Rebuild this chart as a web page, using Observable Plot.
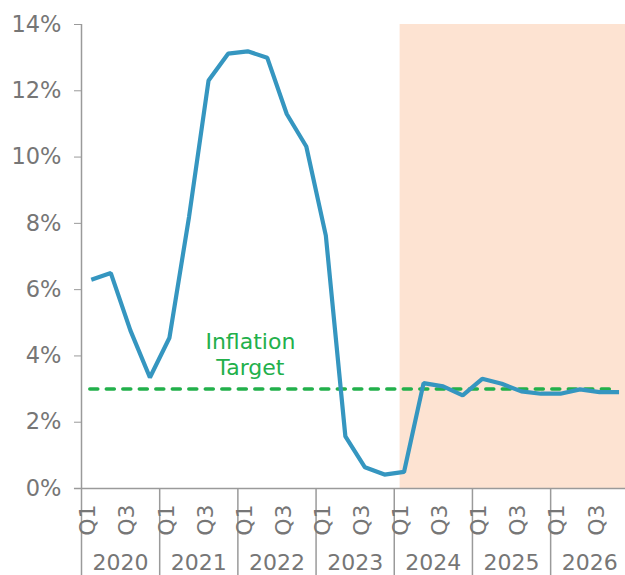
<!DOCTYPE html>
<html>
<head>
<meta charset="utf-8">
<script src="https://cdn.jsdelivr.net/npm/d3@7"></script>
<script src="https://cdn.jsdelivr.net/npm/@observablehq/plot@0.6"></script>
<style>
  html, body { margin: 0; padding: 0; background: #fff; }
  #chart svg { display: block; overflow: visible; }
</style>
</head>
<body>
<div id="chart"></div>
<script>
// Quarterly inflation rate (%), 2020 Q1 – 2026 Q4
const years = [2020, 2021, 2022, 2023, 2024, 2025, 2026];
const quarters = ["Q1", "Q2", "Q3", "Q4"];
const inflation = [
  6.30, 6.50, 4.77, 3.35,
  4.55, 8.19, 12.31, 13.12,
  13.19, 13.00, 11.30, 10.32,
  7.63, 1.57, 0.64, 0.42,
  0.50, 3.18, 3.08, 2.81,
  3.31, 3.16, 2.93, 2.86,
  2.86, 2.99, 2.91, 2.91
];
const yTicks = [0, 2, 4, 6, 8, 10, 12, 14];
const shownQuarters = ["Q1", "Q3"];
const inflationTarget = 3;
const targetLabel = "Inflation\nTarget";
const forecastStart = {year: 2024, quarter: "Q1"};

// One row per quarter; x is the quarter index (centred in its slot)
const rows = [];
years.forEach((yr, yi) => quarters.forEach((q, qi) => {
  const i = yi * 4 + qi;
  rows.push({i, x: i + 0.5, year: yr, quarter: q, value: inflation[i]});
}));

const qIndex = (yr, q) => years.indexOf(yr) * 4 + quarters.indexOf(q);
const xEnd = 27.83;       // right edge of the plotting area (last year runs past it)
const belowAxis = -2.7;   // extent of year separators in the bottom margin
const textGrey = "#767676";
const lineGrey = "#9a9a9a";
const green = "#22b04b";

const chart = Plot.plot({
  width: 625,
  height: 575,
  marginLeft: 81,
  marginRight: 0,
  marginTop: 24,
  marginBottom: 87,
  style: {fontFamily: "DejaVu Sans", fontSize: "22px", background: "#fff", overflow: "visible"},
  x: {type: "linear", domain: [0, xEnd], axis: null},
  y: {domain: [0, 14], axis: null},
  marks: [
    // forecast period shading
    Plot.rect([forecastStart], {
      x1: d => qIndex(d.year, d.quarter) + 0.3,
      x2: xEnd,
      y1: 0,
      y2: 14,
      fill: "#fde3d2"
    }),
    // y axis
    Plot.axisY(yTicks, {
      label: null,
      tickSize: 7,
      tickPadding: 13,
      tickFormat: d => d + "%",
      stroke: lineGrey,
      fill: textGrey,
      fontSize: 22.5
    }),
    // axis lines
    Plot.ruleX([0], {y1: 14, y2: belowAxis, stroke: lineGrey, strokeWidth: 1.5}),
    Plot.ruleY([0], {x1: -0.36, x2: xEnd, stroke: lineGrey, strokeWidth: 1.5}),
    // year separators
    Plot.ruleX(years.slice(1), {x: (d, k) => (k + 1) * 4, y1: 0, y2: belowAxis, stroke: lineGrey, strokeWidth: 1.5}),
    // quarter labels
    Plot.text(rows.filter(d => shownQuarters.includes(d.quarter)), {
      x: "x",
      y: 0,
      text: "quarter",
      rotate: -90,
      textAnchor: "end",
      dy: 16,
      dx: -3,
      fill: textGrey,
      fontSize: 22
    }),
    // year labels
    Plot.text(years, {
      x: (d, k) => k * 4 + 2,
      y: -2.25,
      text: d => String(d),
      fill: textGrey,
      fontSize: 22
    }),
    // inflation target
    Plot.ruleY([inflationTarget], {
      x1: 0.45,
      x2: 27.2,
      stroke: green,
      strokeWidth: 3.5,
      strokeDasharray: "8,8.5",
      strokeLinecap: "round"
    }),
    Plot.text([targetLabel], {
      x: 8.64,
      y: 4.06,
      text: d => d,
      lineAnchor: "middle",
      lineHeight: 1.14,
      fill: green,
      fontSize: 22
    }),
    // inflation line
    Plot.line(rows, {
      x: "x",
      y: "value",
      stroke: "#3596c0",
      strokeWidth: 4.2,
      strokeLinejoin: "miter",
      strokeLinecap: "butt"
    })
  ]
});

document.getElementById("chart").appendChild(chart);
</script>
</body>
</html>
